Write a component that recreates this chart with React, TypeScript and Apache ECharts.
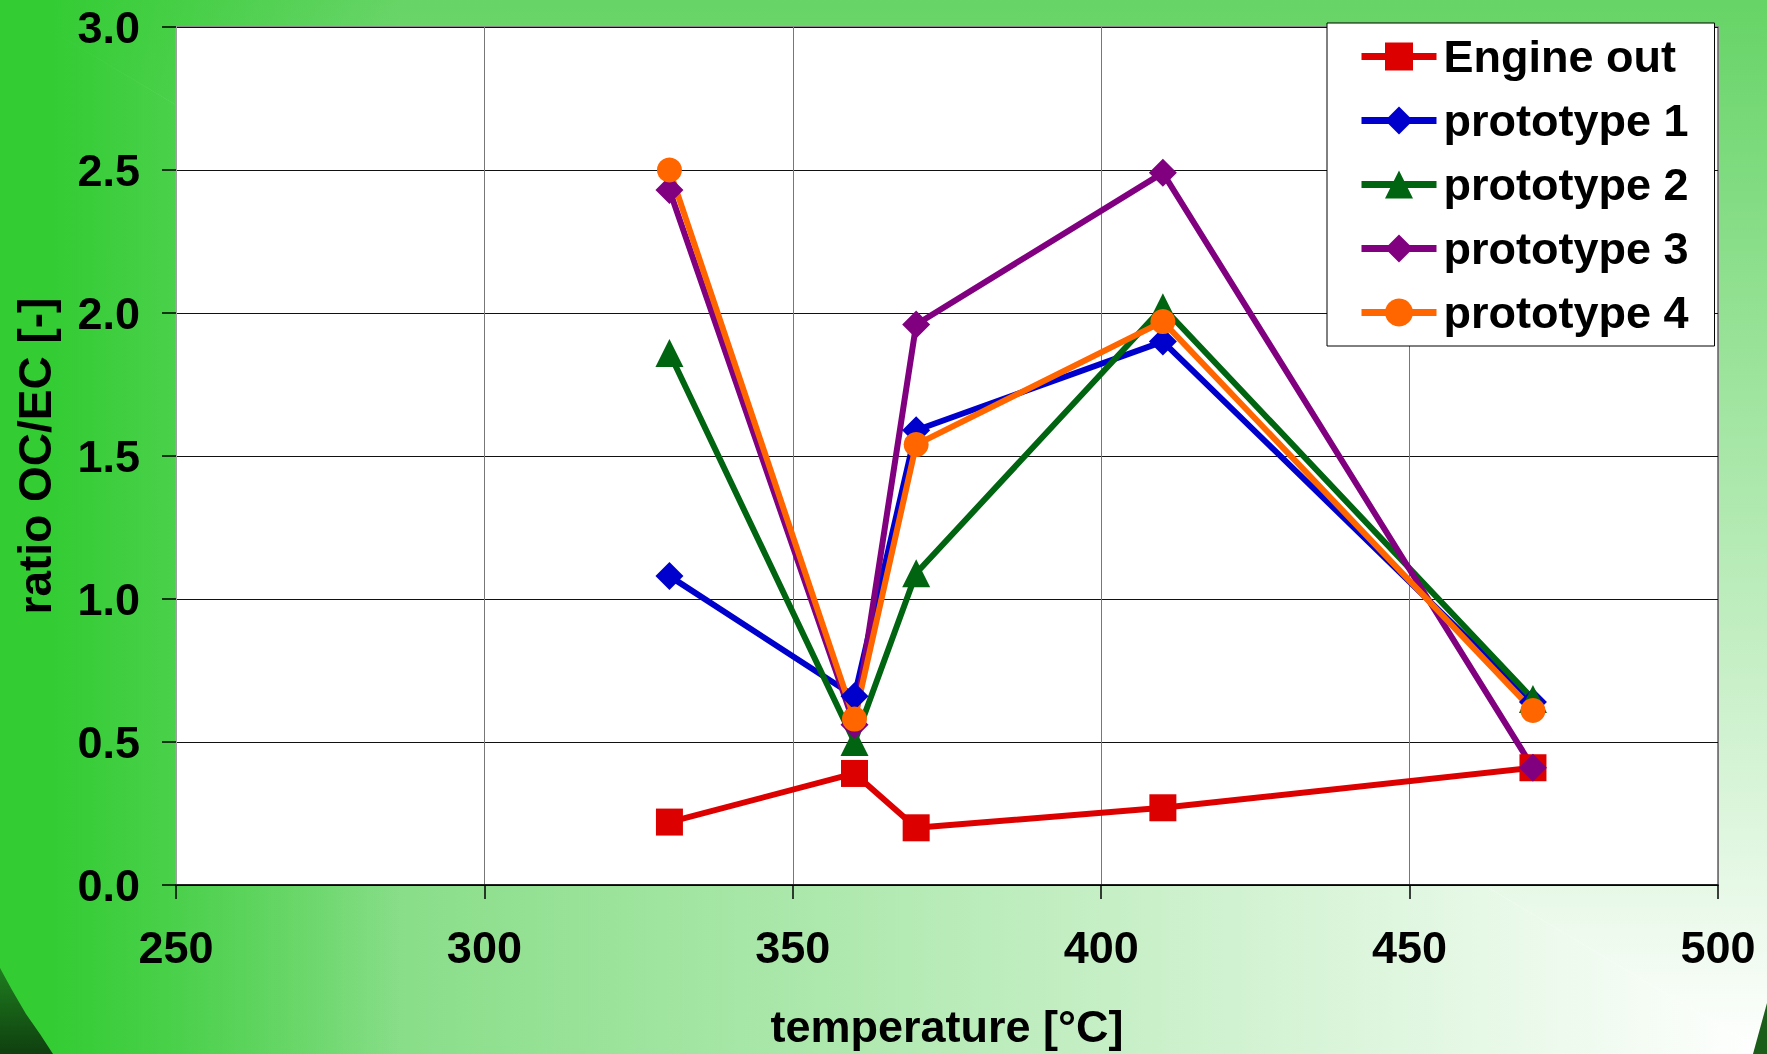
import React, { useEffect, useRef } from "react";
import * as echarts from "echarts";

const temperatures = [330, 360, 370, 410, 470];
const engineOut = [0.22, 0.39, 0.2, 0.27, 0.41];
const prototype1 = [1.08, 0.66, 1.59, 1.9, 0.64];
const prototype2 = [1.86, 0.5, 1.09, 2.02, 0.65];
const prototype3 = [2.43, 0.56, 1.96, 2.49, 0.41];
const prototype4 = [2.5, 0.58, 1.54, 1.97, 0.61];

const seriesNames = ["Engine out", "prototype 1", "prototype 2", "prototype 3", "prototype 4"];
const seriesValues = [engineOut, prototype1, prototype2, prototype3, prototype4];
const seriesColors = ["#dd0000", "#0000cc", "#006411", "#800080", "#ff6600"];
const seriesSymbols = ["rect", "diamond", "triangle", "diamond", "circle"];
const seriesSymbolSizes = [27, 28, 28, 28, 25];

const xMin = 250;
const xMax = 500;
const xStep = 50;
const yMin = 0;
const yMax = 3;
const yStep = 0.5;

const W = 1767;
const H = 1054;
const FONT = "'Liberation Sans', Arial, sans-serif";

export default function App() {
  const ref = useRef<HTMLDivElement>(null);

  useEffect(() => {
    if (!ref.current) return;
    const chart = echarts.init(ref.current, null, { renderer: "svg" });

    const series = seriesNames.map((name, i) => ({
      name,
      type: "line",
      data: temperatures.map((t, j) => [t, seriesValues[i][j]]),
      symbol: seriesSymbols[i],
      symbolSize: seriesSymbolSizes[i],
      showSymbol: true,
      lineStyle: { color: seriesColors[i], width: 6 },
      itemStyle: { color: seriesColors[i] },
      emphasis: { disabled: true },
    }));

    chart.setOption({
      animation: false,
      backgroundColor: "transparent",
      textStyle: { fontFamily: FONT },
      graphic: [
        {
          type: "polygon",
          z: -10,
          silent: true,
          shape: { points: [[0, 0], [W, 0], [W, H]] },
          style: {
            fill: new echarts.graphic.LinearGradient(0, 0, 0, 1, [
              { offset: 0, color: "#66d466" },
              { offset: 1, color: "#ffffff" },
            ]),
          },
        },
        {
          type: "polygon",
          z: -10,
          silent: true,
          shape: { points: [[0, 0], [0, H], [W, H]] },
          style: {
            fill: new echarts.graphic.LinearGradient(0, 0, 1, 0, [
              { offset: 0, color: "#66d466" },
              { offset: 1, color: "#ffffff" },
            ]),
          },
        },
        {
          type: "rect",
          z: -9,
          silent: true,
          shape: { x: 0, y: 0, width: 400, height: H },
          style: {
            fill: new echarts.graphic.LinearGradient(0, 0, 1, 0, [
              { offset: 0, color: "rgba(51,204,51,1)" },
              { offset: 0.12, color: "rgba(51,204,51,1)" },
              { offset: 1, color: "rgba(51,204,51,0)" },
            ]),
          },
        },
        {
          type: "polygon",
          z: -8,
          silent: true,
          shape: { points: [[0, 968], [12, 990], [26, 1014], [40, 1034], [53, 1054], [0, 1054]] },
          style: {
            fill: new echarts.graphic.LinearGradient(0, 0, 0, 1, [
              { offset: 0, color: "#1f7d1f" },
              { offset: 1, color: "#0f3f0f" },
            ]),
          },
        },
        {
          type: "polygon",
          z: -8,
          silent: true,
          shape: { points: [[W, 1003], [W - 14, H], [W, H]] },
          style: { fill: "#1a5e1a" },
        },
      ],
      grid: {
        left: 176,
        right: 49,
        top: 27,
        bottom: 169,
        show: true,
        backgroundColor: "#ffffff",
        borderColor: "#888888",
        borderWidth: 2,
        containLabel: false,
      },
      legend: {
        orient: "vertical",
        left: 1327,
        top: 23,
        backgroundColor: "#ffffff",
        borderColor: "#000000",
        borderWidth: 1,
        borderRadius: 0,
        padding: [11, 26, 11, 31],
        itemWidth: 75,
        itemHeight: 35,
        itemGap: 19,
        selectedMode: false,
        lineStyle: { width: 7 },
        textStyle: {
          fontFamily: FONT,
          fontSize: 45,
          fontWeight: "bold",
          color: "#000000",
          lineHeight: 44,
          padding: [0, 0, 0, 2],
        },
        data: seriesNames,
      },
      xAxis: {
        type: "value",
        min: xMin,
        max: xMax,
        interval: xStep,
        name: "temperature [°C]",
        nameLocation: "middle",
        nameGap: 119,
        nameTextStyle: { fontFamily: FONT, fontSize: 45, fontWeight: "bold", color: "#000" },
        axisLine: { show: true, onZero: false, lineStyle: { color: "#000", width: 1.5 } },
        axisTick: { show: true, length: 14, lineStyle: { color: "#000", width: 1.5 } },
        axisLabel: {
          margin: 40,
          fontFamily: FONT,
          fontSize: 45,
          fontWeight: "bold",
          color: "#000",
        },
        splitLine: { show: true, lineStyle: { color: "#777777", width: 1 } },
      },
      yAxis: {
        type: "value",
        min: yMin,
        max: yMax,
        interval: yStep,
        name: "ratio OC/EC [-]",
        nameLocation: "middle",
        nameGap: 118,
        nameRotate: 90,
        nameTextStyle: { fontFamily: FONT, fontSize: 46, fontWeight: "bold", color: "#000" },
        axisLine: { show: true, onZero: false, lineStyle: { color: "#a0a0a0", width: 2 } },
        axisTick: { show: true, length: 14, lineStyle: { color: "#000", width: 1.5 } },
        axisLabel: {
          margin: 36,
          fontFamily: FONT,
          fontSize: 45,
          fontWeight: "bold",
          color: "#000",
          formatter: (v: number) => v.toFixed(1),
        },
        splitLine: { show: true, lineStyle: { color: "#111111", width: 1 } },
      },
      series,
    });

    return () => chart.dispose();
  }, []);

  return (
    <div
      ref={ref}
      style={{ position: "fixed", left: 0, top: 0, width: W, height: H }}
    />
  );
}
